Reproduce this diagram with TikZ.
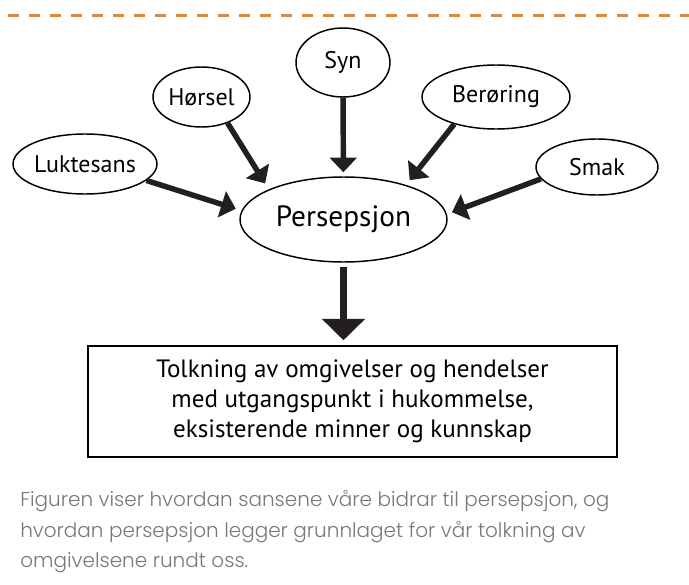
\documentclass[tikz,border=0pt]{standalone}
\usepackage{fontspec}
\setmainfont{PT Sans}
\newfontfamily\captionfont{Poppins Light}
\usepackage{tikz}
\usetikzlibrary{positioning,shapes.geometric,arrows.meta}

\definecolor{strek}{RGB}{222,138,58}
\definecolor{tekstgraa}{RGB}{120,120,120}
\definecolor{pilfarge}{RGB}{35,31,32}

\begin{document}
\begin{tikzpicture}[x=0.75pt, y=-0.75pt,
    sans/.style={ellipse, draw, line width=1.1pt, inner sep=0pt, font=\fontsize{18}{20}\selectfont},
    pil/.style={-{Triangle[length=11pt,width=20pt]}, line width=4.1pt, draw=pilfarge},
    storpil/.style={-{Triangle[length=16pt,width=31.5pt]}, line width=5.5pt, draw=pilfarge}]
      \useasboundingbox (0,0) rectangle (689,585);

      % stiplet linje overst
      \draw[strek, line width=2.25pt, dash pattern=on 8.25pt off 7.5pt] (8,15.7) -- (689,15.7);

      \node[sans, minimum width=70.5pt, minimum height=51.75pt] (syn) at (343, 62.5) {Syn};
      \node[sans, minimum width=72.75pt, minimum height=45pt] (hor) at (201.5, 97) {Hørsel};
      \node[sans, minimum width=111pt, minimum height=48pt] (ber) at (496, 97) {Berøring};
      \node[sans, minimum width=108pt, minimum height=45pt] (luk) at (85, 164) {Luktesans};
      \node[sans, minimum width=91.5pt, minimum height=42pt] (smak) at (597, 167) {Smak};
      \node[sans, minimum width=155.25pt, minimum height=63.75pt, font=\fontsize{22}{24}\selectfont] (per) at (343.5, 219.5) {Persepsjon};

      \node[rectangle, draw, line width=1.1pt, minimum width=396.75pt, minimum height=83.25pt,
            align=center, font=\fontsize{18.8}{22.5}\selectfont] (tolk) at (352.5, 401.5)
            {Tolkning av omgivelser og hendelser\\med utgangspunkt i hukommelse,\\eksisterende minner og kunnskap};

      % bildetekst
      \node[anchor=north west, inner sep=0pt, align=left, text=tekstgraa,
            font=\captionfont\fontsize{15}{23}\selectfont] (tekst) at (20, 490)
            {Figuren viser hvordan sansene våre bidrar til persepsjon, og\\hvordan persepsjon legger grunnlaget for vår tolkning av\\omgivelsene rundt oss.};

      \draw (syn) edge[pil, shorten >=3pt] (per);
      \draw (hor.-45) edge[pil, shorten >=5.25pt] (per.158);
      \draw (ber.-147) edge[pil, shorten >=4.5pt] (per.29);
      \draw (luk.-15) edge[pil, shorten >=4.5pt] (per.175);
      \draw (smak.-168) edge[pil, shorten >=4pt] (per.3);
      \draw (per.south) edge[storpil, shorten <=3pt, shorten >=3.75pt] (per.south |- tolk.north);
    \end{tikzpicture}
\end{document}
